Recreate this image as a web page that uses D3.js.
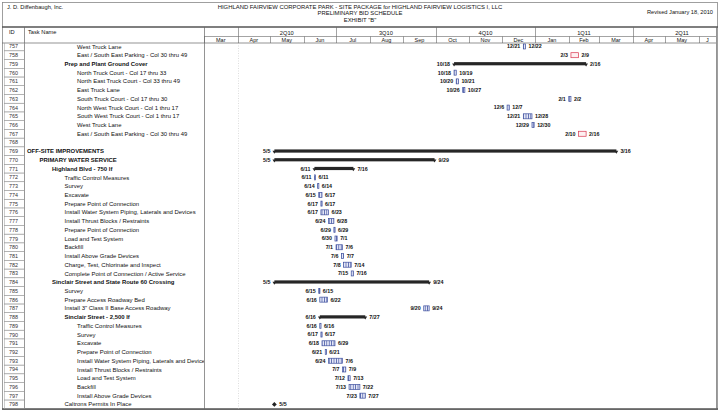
<!DOCTYPE html>
<html><head><meta charset="utf-8">
<script src="https://cdn.jsdelivr.net/npm/d3@7"></script>
<style>html,body{margin:0;padding:0;background:#fff;}svg{display:block;}</style>
</head><body>
<script>
// ---------------- data ----------------
const ids = [757,758,759,760,761,762,763,764,765,766,767,768,769,770,771,772,773,774,775,776,777,778,779,780,781,782,783,784,785,786,787,788,789,790,791,792,793,794,795,796,797,798];
const names = [
 "West Truck Lane","East / South East Parking - Col 30 thru 49","Prep and Plant Ground Cover",
 "North Truck Court - Col 17 thru 33","North East Truck Court - Col 33 thru 49","East Truck Lane",
 "South Truck Court - Col 17 thru 30","North West Truck Court - Col 1 thru 17","South West Truck Court - Col 1 thru 17",
 "West Truck Lane","East / South East Parking - Col 30 thru 49","",
 "OFF-SITE IMPROVEMENTS","PRIMARY WATER SERVICE","Highland Blvd - 750 lf",
 "Traffic Control Measures","Survey","Excavate","Prepare Point of Connection",
 "Install Water System Piping, Laterals and Devices","Install Thrust Blocks / Restraints","Prepare Point of Connection",
 "Load and Test System","Backfill","Install Above Grade Devices","Charge, Test, Chlorinate and Inspect",
 "Complete Point of Connection / Active Service","Sinclair Street and State Route 60 Crossing","Survey",
 "Prepare Access Roadway Bed","Install 3\" Class II Base Access Roadway","Sinclair Street - 2,500 lf",
 "Traffic Control Measures","Survey","Excavate","Prepare Point of Connection",
 "Install Water System Piping, Laterals and Devices","Install Thrust Blocks / Restraints","Load and Test System",
 "Backfill","Install Above Grade Devices","Caltrons Permits In Place"];
const levels = [5,5,4,5,5,5,5,5,5,5,5,0,1,2,3,4,4,4,4,4,4,4,4,4,4,4,4,3,4,4,4,4,5,5,5,5,5,5,5,5,5,4];
const kinds = ["task","crit","sum","task","task","task","task","task","task","task","crit","none",
 "sum","sum","sum","task","task","task","task","task","task","task","task","task","task","task","task",
 "sum","task","task","task","sum","task","task","task","task","task","task","task","task","task","ms"];
const starts = ["2010-12-21","2011-02-03","2010-10-18","2010-10-18","2010-10-20","2010-10-26","2011-02-01","2010-12-06","2010-12-21","2010-12-29","2011-02-10",null,
 "2010-05-05","2010-05-05","2010-06-11","2010-06-11","2010-06-14","2010-06-15","2010-06-17","2010-06-17","2010-06-24","2010-06-29","2010-06-30","2010-07-01","2010-07-06","2010-07-08","2010-07-15",
 "2010-05-05","2010-06-15","2010-06-16","2010-09-20","2010-06-16","2010-06-16","2010-06-17","2010-06-18","2010-06-21","2010-06-24","2010-07-07","2010-07-12","2010-07-13","2010-07-23","2010-05-05"];
const ends = ["2010-12-22","2011-02-09","2011-02-16","2010-10-19","2010-10-21","2010-10-27","2011-02-02","2010-12-07","2010-12-28","2010-12-30","2011-02-16",null,
 "2011-03-16","2010-09-29","2010-07-16","2010-06-11","2010-06-14","2010-06-17","2010-06-17","2010-06-23","2010-06-28","2010-06-29","2010-07-01","2010-07-06","2010-07-07","2010-07-14","2010-07-16",
 "2010-09-24","2010-06-15","2010-06-22","2010-09-24","2010-07-27","2010-06-16","2010-06-17","2010-06-29","2010-06-21","2010-07-06","2010-07-09","2010-07-13","2010-07-22","2010-07-27","2010-05-05"];
const monthStarts = ["2010-03-01","2010-04-01","2010-05-01","2010-06-01","2010-07-01","2010-08-01","2010-09-01","2010-10-01","2010-11-01","2010-12-01","2011-01-01","2011-02-01","2011-03-01","2011-04-01","2011-05-01","2011-06-01","2011-07-01"];
const monthLabels = ["Mar","Apr","May","Jun","Jul","Aug","Sep","Oct","Nov","Dec","Jan","Feb","Mar","Apr","May","J"];
const quarterStarts = ["2010-01-01","2010-04-01","2010-07-01","2010-10-01","2011-01-01","2011-04-01","2011-07-01"];
const quarterLabels = ["1Q10","2Q10","3Q10","4Q10","1Q11","2Q11"];
const titleLines = ["HIGHLAND FAIRVIEW CORPORATE PARK - SITE PACKAGE for HIGHLAND FAIRVIEW LOGISTICS I, LLC","PRELIMINARY BID SCHEDULE","EXHIBIT \"B\""];

// ---------------- layout ----------------
const W = 720, H = 413;
const FONT = "'Liberation Sans', Arial, Helvetica, sans-serif";
const chartL = 204, chartR = 716;
const hdrTop = 27, hdrMid = 36.5, hdrBot = 43;
const bottomY = 409;
const parse = d3.timeParse("%Y-%m-%d");
const dayAfter = d => d3.timeDay.offset(d, 1);

const x = d3.scaleTime().domain([parse("2010-03-01"), parse("2011-06-17")]).range([chartL, chartR]);
const y = d3.scaleBand().domain(ids).range([42.1, 42.1 + ids.length * 8.73]).padding(0);
const yc = id => y(id) + y.bandwidth() / 2;

const svg = d3.select("body").append("svg").attr("width", W).attr("height", H)
  .style("font-family", FONT);
svg.append("rect").attr("width", W).attr("height", H).attr("fill", "#fff");

const defs = svg.append("defs");
const pat = defs.append("pattern").attr("id", "taskPat").attr("patternUnits", "userSpaceOnUse")
  .attr("width", 2.4).attr("height", 6);
pat.append("rect").attr("width", 2.4).attr("height", 6).attr("fill", "#e4e7f6");
pat.append("rect").attr("x", 0).attr("width", 0.7).attr("height", 6).attr("fill", "#3d4f9f");
defs.append("clipPath").attr("id", "chartClip").append("rect")
  .attr("x", chartL).attr("y", 27).attr("width", chartR - chartL).attr("height", bottomY - 27);
defs.append("clipPath").attr("id", "rowClip").append("rect")
  .attr("x", 0).attr("y", hdrBot).attr("width", W).attr("height", bottomY - hdrBot);
defs.append("clipPath").attr("id", "nameClip").append("rect")
  .attr("x", 24).attr("y", hdrBot).attr("width", chartL - 24).attr("height", bottomY - hdrBot);

// ---------------- title block ----------------
const ink = "#111";
svg.append("text").attr("x", 7).attr("y", 9).attr("font-size", 5.7).attr("fill", ink).text("J. D. Diffenbaugh, Inc.");
svg.append("text").attr("x", 713).attr("y", 14).attr("text-anchor", "end").attr("font-size", 5.7).attr("fill", ink).text("Revised January 18, 2010");
svg.selectAll("text.title").data(titleLines).join("text").attr("class", "title")
  .attr("x", 360).attr("y", (d, i) => 9 + i * 6.3).attr("text-anchor", "middle")
  .attr("font-size", 5.9).attr("fill", ink).text(d => d);

// ---------------- frame ----------------
const lineC = "#666";
svg.append("rect").attr("x", 2.5).attr("y", 2.5).attr("width", 715).attr("height", 407)
  .attr("fill", "none").attr("stroke", "#888").attr("stroke-width", 0.8);
svg.append("line").attr("x1", 2).attr("x2", 718).attr("y1", hdrTop).attr("y2", hdrTop).attr("stroke", "#555").attr("stroke-width", 1.3);
svg.append("line").attr("x1", chartL).attr("x2", chartR).attr("y1", hdrMid).attr("y2", hdrMid).attr("stroke", lineC).attr("stroke-width", 0.6);
svg.append("line").attr("x1", 2).attr("x2", chartR).attr("y1", hdrBot).attr("y2", hdrBot).attr("stroke", lineC).attr("stroke-width", 0.7);
svg.append("line").attr("x1", 2).attr("x2", 718).attr("y1", bottomY).attr("y2", bottomY).attr("stroke", "#555").attr("stroke-width", 1.4);
[24.5, chartL + 0.5, chartR + 0.5].forEach(v => svg.append("line").attr("x1", v).attr("x2", v)
  .attr("y1", hdrTop).attr("y2", bottomY).attr("stroke", lineC).attr("stroke-width", 0.7));
svg.append("text").attr("x", 9).attr("y", 33.5).attr("font-size", 5.7).attr("fill", ink).text("ID");
svg.append("text").attr("x", 28).attr("y", 33.5).attr("font-size", 5.7).attr("fill", ink).text("Task Name");

// ---------------- timescale header ----------------
const hdr = svg.append("g").attr("clip-path", "url(#chartClip)");
const qs = quarterStarts.map(parse), ms = monthStarts.map(parse);
hdr.selectAll("line.q").data(qs).join("line").attr("class", "q")
  .attr("x1", d => Math.round(x(d)) + 0.5).attr("x2", d => Math.round(x(d)) + 0.5)
  .attr("y1", hdrTop).attr("y2", hdrMid).attr("stroke", lineC).attr("stroke-width", 0.6);
hdr.selectAll("text.q").data(quarterLabels).join("text").attr("class", "q")
  .attr("x", (d, i) => (x(qs[i]) + x(qs[i + 1])) / 2).attr("y", 34.5).attr("text-anchor", "middle")
  .attr("font-size", 5.7).attr("fill", ink).text(d => d);
hdr.selectAll("line.m").data(ms).join("line").attr("class", "m")
  .attr("x1", d => Math.round(x(d)) + 0.5).attr("x2", d => Math.round(x(d)) + 0.5)
  .attr("y1", hdrMid).attr("y2", hdrBot).attr("stroke", lineC).attr("stroke-width", 0.6);
hdr.selectAll("text.m").data(monthLabels).join("text").attr("class", "m")
  .attr("x", (d, i) => {
    const a = x(ms[i]), b = Math.min(x(ms[i + 1]), chartR);
    return (a + b) / 2;
  }).attr("y", 41.6).attr("text-anchor", "middle")
  .attr("font-size", 5.5).attr("fill", ink).text(d => d);

// faint dotted marker line
svg.append("line").attr("x1", Math.round(x(parse("2010-04-01"))) + 0.5).attr("x2", Math.round(x(parse("2010-04-01"))) + 0.5)
  .attr("y1", hdrBot).attr("y2", bottomY).attr("stroke", "#bbb").attr("stroke-width", 0.5).attr("stroke-dasharray", "1,1.5");

// ---------------- table rows ----------------
const rows = ids.map((id, i) => ({
  id, name: names[i], level: levels[i], kind: kinds[i],
  s: starts[i] ? parse(starts[i]) : null, e: ends[i] ? parse(ends[i]) : null,
  sLab: starts[i] ? (+starts[i].slice(5, 7)) + "/" + (+starts[i].slice(8)) : "",
  eLab: ends[i] ? (+ends[i].slice(5, 7)) + "/" + (+ends[i].slice(8)) : ""
}));

const table = svg.append("g").attr("clip-path", "url(#rowClip)");
table.selectAll("rect.idc").data(rows).join("rect").attr("class", "idc")
  .attr("x", 4.5).attr("y", d => y(d.id)).attr("width", 20).attr("height", y.bandwidth())
  .attr("fill", "none").attr("stroke", "#999").attr("stroke-width", 0.5);
table.selectAll("text.idt").data(rows).join("text").attr("class", "idt")
  .attr("x", 9).attr("y", d => yc(d.id) + 2).attr("font-size", 5.4).attr("fill", "#333").text(d => d.id);

const nameG = svg.append("g").attr("clip-path", "url(#nameClip)");
nameG.selectAll("text").data(rows).join("text")
  .attr("x", d => 27 + (d.level - 1) * 12.5).attr("y", d => yc(d.id) + 2.1)
  .attr("font-size", 5.95).attr("font-weight", d => d.kind === "sum" ? "bold" : "normal")
  .attr("fill", ink).text(d => d.name);

// ---------------- gantt bars ----------------
const g = svg.append("g").attr("clip-path", "url(#chartClip)");
const labSize = 5.3;
const barH = 5;

const taskRows = rows.filter(d => d.kind === "task" || d.kind === "crit");
g.selectAll("rect.task").data(taskRows).join("rect").attr("class", "task")
  .attr("x", d => x(d.s)).attr("y", d => yc(d.id) - barH / 2)
  .attr("width", d => Math.max(1.2, x(dayAfter(d.e)) - x(d.s))).attr("height", barH)
  .attr("fill", d => d.kind === "crit" ? "#fdeff1" : "url(#taskPat)")
  .attr("stroke", d => d.kind === "crit" ? "#d9364e" : "#3d4f9f").attr("stroke-width", 0.7);

const sumRows = rows.filter(d => d.kind === "sum");
g.selectAll("rect.sum").data(sumRows).join("rect").attr("class", "sum")
  .attr("x", d => x(d.s)).attr("y", d => yc(d.id) - 1.8)
  .attr("width", d => x(dayAfter(d.e)) - x(d.s)).attr("height", 3.2)
  .attr("fill", "#262626");
const tri = (cx, cy) => `M${cx - 1.9},${cy} L${cx + 1.9},${cy} L${cx},${cy + 3} Z`;
g.selectAll("path.sumL").data(sumRows).join("path").attr("class", "sumL")
  .attr("d", d => tri(x(d.s), yc(d.id) - 0.5)).attr("fill", "#262626");
g.selectAll("path.sumR").data(sumRows).join("path").attr("class", "sumR")
  .attr("d", d => tri(x(dayAfter(d.e)), yc(d.id) - 0.5)).attr("fill", "#262626");

const msRows = rows.filter(d => d.kind === "ms");
g.selectAll("path.ms").data(msRows).join("path").attr("class", "ms")
  .attr("d", d => { const cx = x(d.s), cy = yc(d.id); return `M${cx},${cy - 2.4} L${cx + 2.4},${cy} L${cx},${cy + 2.4} L${cx - 2.4},${cy} Z`; })
  .attr("fill", "#222");

const barRows = rows.filter(d => d.kind === "task" || d.kind === "crit" || d.kind === "sum");
g.selectAll("text.sl").data(barRows).join("text").attr("class", "sl")
  .attr("x", d => x(d.s) - (d.kind === "sum" ? 4 : 3)).attr("y", d => yc(d.id) + 1.9)
  .attr("text-anchor", "end").attr("font-size", labSize).attr("font-weight", "bold").attr("fill", ink)
  .text(d => d.sLab);
g.selectAll("text.el").data(barRows).join("text").attr("class", "el")
  .attr("x", d => x(dayAfter(d.e)) + (d.kind === "sum" ? 4 : 3)).attr("y", d => yc(d.id) + 1.9)
  .attr("font-size", labSize).attr("font-weight", "bold").attr("fill", ink)
  .text(d => d.eLab);
g.selectAll("text.ml").data(msRows).join("text").attr("class", "ml")
  .attr("x", d => x(d.s) + 5).attr("y", d => yc(d.id) + 1.9)
  .attr("font-size", labSize).attr("font-weight", "bold").attr("fill", ink)
  .text(d => d.sLab);
</script>
</body></html>
